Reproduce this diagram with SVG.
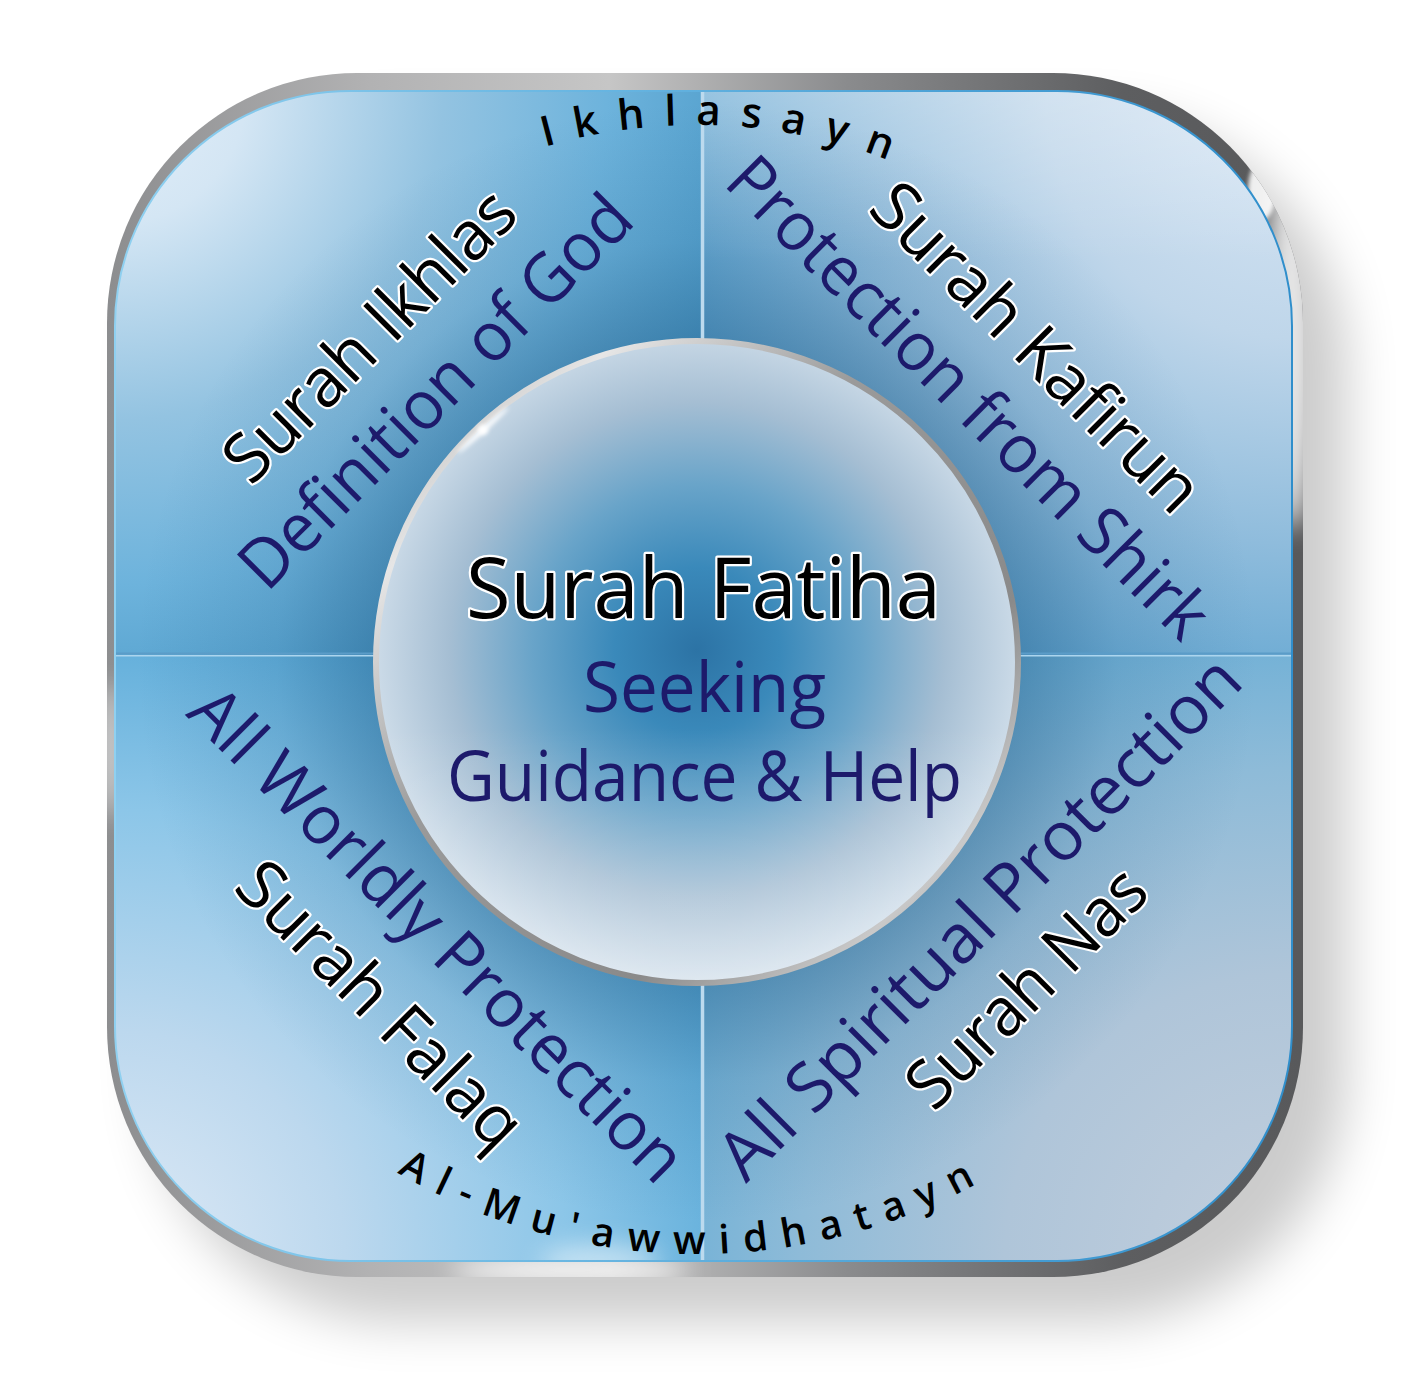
<svg xmlns="http://www.w3.org/2000/svg" width="1412" height="1377" viewBox="0 0 1412 1377">
<defs>
  <style>
    .t { font-family: "Open Sans", "Liberation Sans", sans-serif; text-anchor: middle; }
    .navy { fill: #1d1a6b; font-size: 68px; }
    .blk { fill: #000; stroke: #fff; stroke-width: 4.5; paint-order: stroke; stroke-linejoin: round; font-size: 68px; }
    .arc { font-family: "Open Sans", "Liberation Sans", sans-serif; font-weight: 600; fill: #000; }
    .divider { stroke: #bcdaee; stroke-width: 3.5; fill: none; }
  </style>
  <filter id="shadowBlur" x="-20%" y="-20%" width="140%" height="140%">
    <feGaussianBlur stdDeviation="26"/>
  </filter>
  <filter id="soft" x="-100%" y="-100%" width="300%" height="300%">
    <feGaussianBlur stdDeviation="12"/>
  </filter>
  <filter id="spark" x="-100%" y="-100%" width="300%" height="300%">
    <feGaussianBlur stdDeviation="2"/>
  </filter>
  <linearGradient id="frameGrad" gradientUnits="userSpaceOnUse" x1="107" y1="0" x2="1302" y2="0">
    <stop offset="0" stop-color="#8c8d8f"/>
    <stop offset="0.22" stop-color="#b2b2b3"/>
    <stop offset="0.42" stop-color="#c6c6c6"/>
    <stop offset="0.62" stop-color="#8a8b8d"/>
    <stop offset="0.85" stop-color="#5d5e60"/>
    <stop offset="1" stop-color="#58595b"/>
  </linearGradient>
  <linearGradient id="rimGrad" gradientUnits="userSpaceOnUse" x1="115" y1="0" x2="1292" y2="0">
    <stop offset="0" stop-color="#8fd0f0"/>
    <stop offset="1" stop-color="#2f8ecb"/>
  </linearGradient>
  <radialGradient id="gTL" gradientUnits="userSpaceOnUse" cx="115" cy="92" r="820">
    <stop offset="0" stop-color="#e4eff9"/>
    <stop offset="0.16" stop-color="#d4e6f4"/>
    <stop offset="0.4" stop-color="#93c3e1"/>
    <stop offset="0.6" stop-color="#6db3dc"/>
    <stop offset="0.8" stop-color="#4d9bc9"/>
    <stop offset="1" stop-color="#3d88b8"/>
  </radialGradient>
  <radialGradient id="gTR" gradientUnits="userSpaceOnUse" cx="1292" cy="92" r="820">
    <stop offset="0" stop-color="#d9e7f5"/>
    <stop offset="0.3" stop-color="#bfd6ea"/>
    <stop offset="0.55" stop-color="#8fbcdc"/>
    <stop offset="0.8" stop-color="#5aa2cf"/>
    <stop offset="1" stop-color="#3e8bbd"/>
  </radialGradient>
  <radialGradient id="gBR" gradientUnits="userSpaceOnUse" cx="1292" cy="1261" r="820">
    <stop offset="0" stop-color="#c3cfdd"/>
    <stop offset="0.35" stop-color="#afc5d9"/>
    <stop offset="0.6" stop-color="#8ebbd8"/>
    <stop offset="0.85" stop-color="#62abd5"/>
    <stop offset="1" stop-color="#4f9fcf"/>
  </radialGradient>
  <radialGradient id="gBL" gradientUnits="userSpaceOnUse" cx="115" cy="1261" r="820">
    <stop offset="0" stop-color="#dfeaf6"/>
    <stop offset="0.28" stop-color="#bcd8ee"/>
    <stop offset="0.55" stop-color="#8cc6e8"/>
    <stop offset="0.8" stop-color="#5aaad8"/>
    <stop offset="1" stop-color="#3f8dbe"/>
  </radialGradient>
  <linearGradient id="topLight" gradientUnits="userSpaceOnUse" x1="0" y1="92" x2="0" y2="260">
    <stop offset="0" stop-color="#ffffff" stop-opacity="0.3"/>
    <stop offset="1" stop-color="#ffffff" stop-opacity="0"/>
  </linearGradient>
  <radialGradient id="halo" gradientUnits="userSpaceOnUse" cx="697" cy="662" r="560">
    <stop offset="0.55" stop-color="#124a75" stop-opacity="0.38"/>
    <stop offset="0.75" stop-color="#124a75" stop-opacity="0.12"/>
    <stop offset="1" stop-color="#124a75" stop-opacity="0"/>
  </radialGradient>
  <radialGradient id="discGrad" gradientUnits="userSpaceOnUse" cx="697" cy="650" r="330">
    <stop offset="0" stop-color="#2c73a5"/>
    <stop offset="0.25" stop-color="#3a89ba"/>
    <stop offset="0.5" stop-color="#69a4c9"/>
    <stop offset="0.75" stop-color="#a5bed3"/>
    <stop offset="1" stop-color="#d0deea"/>
  </radialGradient>
  <linearGradient id="discLift" gradientUnits="userSpaceOnUse" x1="0" y1="340" x2="0" y2="985">
    <stop offset="0" stop-color="#ffffff" stop-opacity="0"/>
    <stop offset="0.6" stop-color="#ffffff" stop-opacity="0"/>
    <stop offset="1" stop-color="#ffffff" stop-opacity="0.3"/>
  </linearGradient>
  <linearGradient id="ringGrad" gradientUnits="userSpaceOnUse" x1="380" y1="350" x2="1015" y2="980">
    <stop offset="0" stop-color="#a2a2a2"/>
    <stop offset="0.18" stop-color="#e6e6e6"/>
    <stop offset="0.4" stop-color="#9a9a9a"/>
    <stop offset="0.7" stop-color="#8a8a8a"/>
    <stop offset="0.85" stop-color="#c9c9c9"/>
    <stop offset="1" stop-color="#7b7b7b"/>
  </linearGradient>
  <clipPath id="panelClip"><rect x="115" y="91" width="1177" height="1170" rx="235" ry="235"/></clipPath>
  <clipPath id="frameClip"><rect x="107" y="73" width="1196" height="1204" rx="250" ry="250"/></clipPath>
  <path id="arcTop" d="M 160 662 A 537 537 0 0 1 1234 662"/>
  <path id="arcBottom" d="M 105 662 A 592 592 0 0 0 1289 662"/>
</defs>

<!-- drop shadow -->
<rect x="150" y="118" width="1196" height="1204" rx="250" ry="250" fill="#000" opacity="0.2" filter="url(#shadowBlur)"/>

<!-- metallic frame -->
<g id="frame">
  <rect x="107" y="73" width="1196" height="1204" rx="250" ry="250" fill="url(#frameGrad)"/>
  <g clip-path="url(#frameClip)">
    <ellipse cx="1292" cy="330" rx="26" ry="200" fill="#ffffff" opacity="0.85" filter="url(#soft)"/>
    <ellipse cx="1262" cy="190" rx="14" ry="30" fill="#ffffff" opacity="0.9" filter="url(#spark)"/>
    <ellipse cx="570" cy="1270" rx="120" ry="14" fill="#ffffff" opacity="0.85" filter="url(#soft)"/>
    <ellipse cx="111" cy="750" rx="8" ry="70" fill="#ffffff" opacity="0.9" filter="url(#soft)"/>
  </g>
</g>

<!-- panel quadrants -->
<g id="panel" clip-path="url(#panelClip)">
  <rect id="quadTL" x="115" y="91" width="588" height="564" fill="url(#gTL)"/>
  <rect id="quadTR" x="703" y="91" width="589" height="564" fill="url(#gTR)"/>
  <rect id="quadBL" x="115" y="655" width="588" height="606" fill="url(#gBL)"/>
  <rect id="quadBR" x="703" y="655" width="589" height="606" fill="url(#gBR)"/>
  <rect x="703" y="91" width="589" height="200" fill="url(#topLight)"/>
  <rect x="115" y="91" width="1177" height="1170" fill="url(#halo)"/>
  <ellipse cx="600" cy="1262" rx="60" ry="18" fill="#ffffff" opacity="0.5" filter="url(#soft)"/>
</g>

<!-- connectors: quadrant dividers -->
<g id="connectors">
  <line class="divider" x1="702.5" y1="91" x2="702.5" y2="1261"/>
  <line x1="115" y1="653.5" x2="1292" y2="653.5" stroke="#5b9cc8" stroke-width="2"/>
  <line x1="115" y1="655.8" x2="1292" y2="655.8" stroke="#acd5ee" stroke-width="1.6"/>
</g>

<rect x="115" y="91" width="1177" height="1170" rx="235" ry="235" fill="none" stroke="url(#rimGrad)" stroke-width="2"/>

<!-- centre disc -->
<g id="nodeFatiha">
  <circle cx="697" cy="662" r="320" fill="url(#discGrad)"/>
  <circle cx="697" cy="662" r="320" fill="url(#discLift)"/>
  <circle cx="697" cy="662" r="321" fill="none" stroke="url(#ringGrad)" stroke-width="6"/>
  <ellipse cx="483" cy="430" rx="34" ry="2.5" transform="rotate(-42 483 430)" fill="#ffffff" filter="url(#spark)"/>
  <circle cx="483" cy="430" r="5" fill="#ffffff" filter="url(#spark)"/>
  <text class="t blk" x="703.5" y="618" style="font-size:84px" textLength="475" lengthAdjust="spacingAndGlyphs">Surah Fatiha</text>
  <text class="t navy" x="704.5" y="712" style="font-size:70px" textLength="243" lengthAdjust="spacingAndGlyphs">Seeking</text>
  <text class="t navy" x="704.5" y="801" style="font-size:70px" textLength="515" lengthAdjust="spacingAndGlyphs">Guidance &amp; Help</text>
</g>

<!-- quadrant labels -->
<g id="nodeIkhlas">
  <text class="t blk" transform="translate(386 352) rotate(-45)" textLength="382" lengthAdjust="spacingAndGlyphs">Surah Ikhlas</text>
  <text class="t navy" transform="translate(452 408) rotate(-45)" textLength="524" lengthAdjust="spacingAndGlyphs">Definition of God</text>
</g>
<g id="nodeKafirun">
  <text class="t blk" transform="translate(1020 364) rotate(45)" textLength="435" lengthAdjust="spacingAndGlyphs">Surah Kafirun</text>
  <text class="t navy" transform="translate(952 414) rotate(45)" textLength="650" lengthAdjust="spacingAndGlyphs">Protection from Shirk</text>
</g>
<g id="nodeFalaq">
  <text class="t navy" transform="translate(421 951) rotate(45)" textLength="668" lengthAdjust="spacingAndGlyphs">All Worldly Protection</text>
  <text class="t blk" transform="translate(364 1021) rotate(45)" textLength="374" lengthAdjust="spacingAndGlyphs">Surah Falaq</text>
</g>
<g id="nodeNas">
  <text class="t navy" transform="translate(996 934) rotate(-45)" textLength="707" lengthAdjust="spacingAndGlyphs">All Spiritual Protection</text>
  <text class="t blk" transform="translate(1043 1004) rotate(-45)" textLength="308" lengthAdjust="spacingAndGlyphs">Surah Nas</text>
</g>

<!-- arc captions -->
<g id="arcIkhlasayn">
  <text class="arc" style="font-size:42px; letter-spacing:19.5px" text-anchor="middle"><textPath href="#arcTop" startOffset="51.8%">Ikhlasayn</textPath></text>
</g>
<g id="arcMuawwidhatayn">
  <text class="arc" style="font-size:40px; letter-spacing:14px" text-anchor="middle"><textPath href="#arcBottom" startOffset="49.75%">Al-Mu'awwidhatayn</textPath></text>
</g>
</svg>
